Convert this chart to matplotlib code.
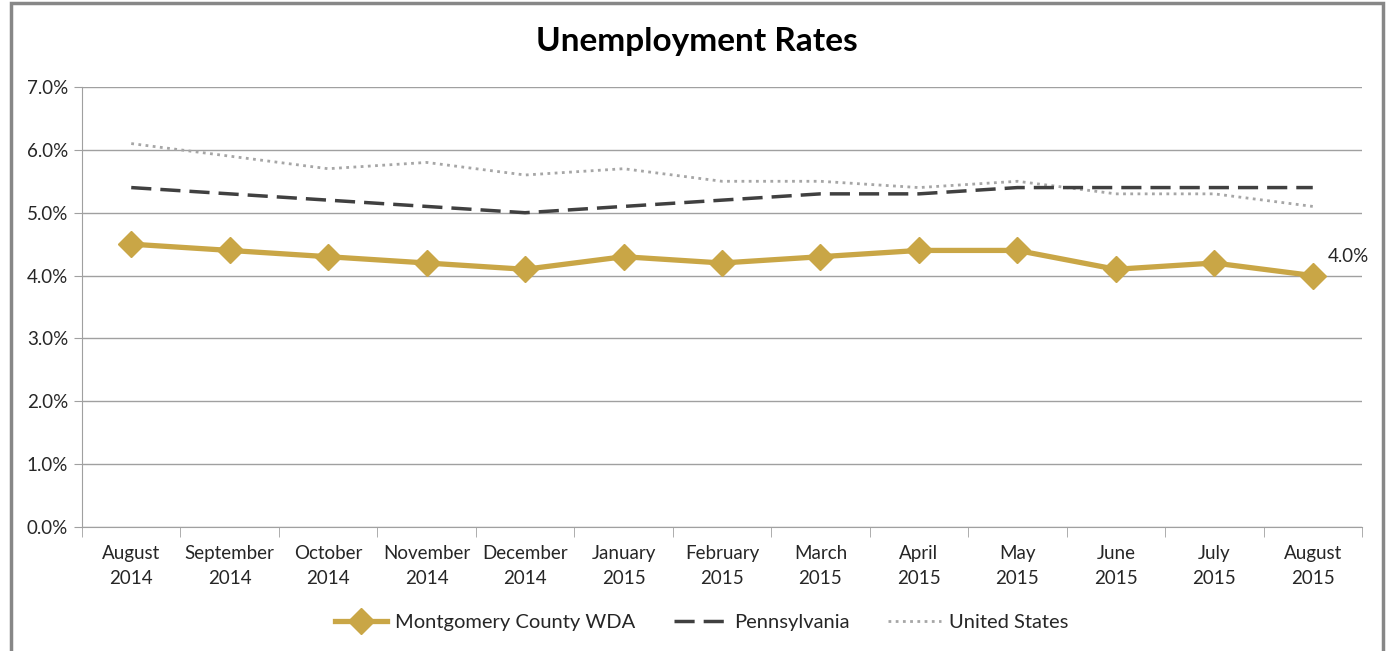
import matplotlib.pyplot as plt
from matplotlib.patches import Rectangle
from matplotlib.ticker import FuncFormatter, FixedLocator

months = ['August\n2014', 'September\n2014', 'October\n2014', 'November\n2014',
          'December\n2014', 'January\n2015', 'February\n2015', 'March\n2015',
          'April\n2015', 'May\n2015', 'June\n2015', 'July\n2015', 'August\n2015']
montgomery = [4.5, 4.4, 4.3, 4.2, 4.1, 4.3, 4.2, 4.3, 4.4, 4.4, 4.1, 4.2, 4.0]
pennsylvania = [5.4, 5.3, 5.2, 5.1, 5.0, 5.1, 5.2, 5.3, 5.3, 5.4, 5.4, 5.4, 5.4]
united_states = [6.1, 5.9, 5.7, 5.8, 5.6, 5.7, 5.5, 5.5, 5.4, 5.5, 5.3, 5.3, 5.1]

GOLD = '#C9A646'
DARK = '#404040'
LIGHT = '#A6A6A6'
GRID = '#A0A0A0'
TXT = '#262626'

plt.rcParams['font.family'] = ['Lato', 'DejaVu Sans']

fig = plt.figure(figsize=(13.89, 6.51), dpi=100, facecolor='white')
# outer chart border
fig.patches.append(Rectangle((11 / 1389, -0.05), (1383 - 11) / 1389, 1.05 - 3 / 651,
                             transform=fig.transFigure, fill=False,
                             edgecolor='#878787', linewidth=2.5))

ax = fig.add_axes([82 / 1389, 1 - 527 / 651, (1362 - 82) / 1389, (527 - 87) / 651])
x = list(range(len(months)))

ax.plot(x, united_states, color=LIGHT, linewidth=2, linestyle=(0, (1, 1.6)),
        label='United States', zorder=3)
ax.plot(x, pennsylvania, color=DARK, linewidth=2.5, linestyle=(0, (5.8, 2.6)),
        label='Pennsylvania', zorder=4)
ax.plot(x, montgomery, color=GOLD, linewidth=3.8, marker='D', markersize=13,
        label='Montgomery County WDA', zorder=5)

ax.annotate(f'{montgomery[-1]:.1f}%', (x[-1], montgomery[-1]), xytext=(11, 10),
            textcoords='offset points', fontsize=13.5, color=TXT)

ax.set_xlim(-0.5, len(months) - 0.5)
ax.set_ylim(0, 7)
ax.set_yticks([i for i in range(8)])
ax.yaxis.set_major_formatter(FuncFormatter(lambda v, p: f'{v:.1f}%'))
ax.set_xticks(x)
ax.set_xticklabels(months, linespacing=1.55)
ax.xaxis.set_minor_locator(FixedLocator([i - 0.5 for i in range(len(months) + 1)]))
ax.tick_params(axis='x', which='major', length=0, pad=13, labelsize=13.5, labelcolor=TXT)
ax.tick_params(axis='x', which='minor', length=7, color=GRID, direction='out')
ax.tick_params(axis='y', length=6, color=GRID, labelsize=13.5, labelcolor=TXT, pad=4)

ax.grid(axis='y', color=GRID, linewidth=1)
ax.set_axisbelow(True)
for s in ['top', 'right']:
    ax.spines[s].set_visible(False)
ax.spines['left'].set_color(GRID)
ax.spines['bottom'].set_color(GRID)

fig.text(697 / 1389, 1 - 42 / 651, 'Unemployment Rates', fontsize=24, fontweight='bold',
         color='black', ha='center', va='center')

handles, labels = ax.get_legend_handles_labels()
order = [2, 1, 0]
ax.legend([handles[i] for i in order], [labels[i] for i in order],
          loc='center', bbox_to_anchor=(0.484, -0.217), ncol=3, frameon=False,
          fontsize=14.5, handlelength=2.6, handletextpad=0.4, columnspacing=1.9,
          labelcolor=TXT)

fig.savefig('out.png', dpi=100, facecolor='white')
